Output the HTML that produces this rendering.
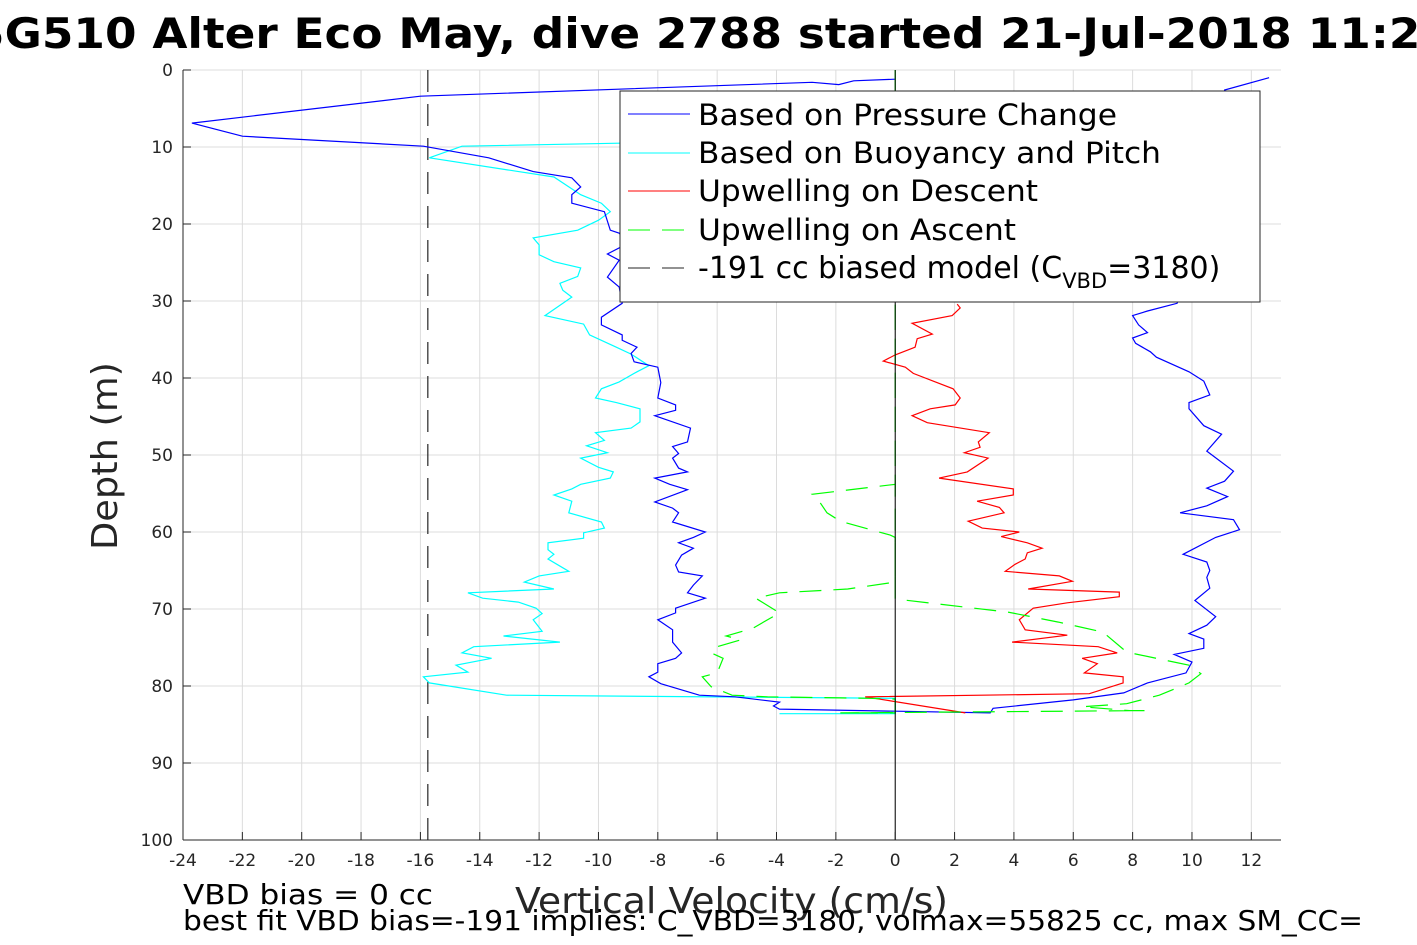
<!DOCTYPE html>
<html><head><meta charset="utf-8"><style>
html,body{margin:0;padding:0;background:#fff;}
svg{display:block;font-family:"DejaVu Sans","Liberation Sans",sans-serif;}
</style></head><body>
<svg id="chart" width="1417" height="945" viewBox="0 0 1417 945">
<text x="-28" y="48" font-size="42" font-weight="bold" fill="#000" textLength="1480" lengthAdjust="spacingAndGlyphs">SG510 Alter Eco May, dive 2788 started 21-Jul-2018 11:29</text>
<g id="grid"></g>
<g id="series"></g>
<rect x="183" y="70" width="1098" height="770" fill="none" stroke="none"/>
<line x1="183" y1="70" x2="183" y2="840" stroke="#262626" stroke-width="1"/>
<line x1="183" y1="840" x2="1281" y2="840" stroke="#262626" stroke-width="1"/>
<g id="ticks"></g>
<text transform="translate(117,456) rotate(-90)" text-anchor="middle" font-size="36" fill="#262626" textLength="188" lengthAdjust="spacingAndGlyphs">Depth (m)</text>
<text x="515" y="913" font-size="36" fill="#262626" textLength="433" lengthAdjust="spacingAndGlyphs">Vertical Velocity (cm/s)</text>
<text x="183" y="904" font-size="28" fill="#000" textLength="250" lengthAdjust="spacingAndGlyphs">VBD bias = 0 cc</text>
<text x="183" y="930" font-size="28" fill="#000" textLength="1180" lengthAdjust="spacingAndGlyphs">best fit VBD bias=-191 implies: C_VBD=3180, volmax=55825 cc, max SM_CC=</text>
<g>
<rect x="620" y="91" width="640" height="211" fill="#fff" stroke="#262626" stroke-width="1"/>
<line x1="628" y1="114" x2="690" y2="114" stroke="#0000ff"/>
<text x="698" y="125" font-size="29" fill="#000" textLength="419" lengthAdjust="spacingAndGlyphs">Based on Pressure Change</text>
<line x1="628" y1="153" x2="690" y2="153" stroke="#00ffff"/>
<text x="698" y="163" font-size="29" fill="#000" textLength="463" lengthAdjust="spacingAndGlyphs">Based on Buoyancy and Pitch</text>
<line x1="628" y1="191" x2="690" y2="191" stroke="#ff0000"/>
<text x="698" y="201" font-size="29" fill="#000" textLength="340" lengthAdjust="spacingAndGlyphs">Upwelling on Descent</text>
<line x1="628" y1="230" x2="690" y2="230" stroke="#00ff00" stroke-dasharray="22,12"/>
<text x="698" y="240" font-size="29" fill="#000" textLength="318" lengthAdjust="spacingAndGlyphs">Upwelling on Ascent</text>
<line x1="628" y1="268" x2="690" y2="268" stroke="#262626" stroke-dasharray="22,12"/>
<text x="698" y="278" font-size="30" fill="#000">-191 cc biased model (C<tspan font-size="21" dy="10">VBD</tspan><tspan dy="-10">=3180)</tspan></text>
</g>
</svg>
<script>
const xTicks = [-24,-22,-20,-18,-16,-14,-12,-10,-8,-6,-4,-2,0,2,4,6,8,10,12];
const yTicks = [0,10,20,30,40,50,60,70,80,90,100];
const biasModelVelocity = -15.75;
const pressureDepth = [1.2,1.4,1.9,1.6,3.4,6.9,8.6,9.9,11.4,13.2,14.0,15.2,16.2,17.3,18.4,20.8,21.2,22.5,23.9,24.7,26.9,28.2,30.3,32.1,33.1,34.4,35.1,36.0,36.8,37.9,38.6,40.6,42.6,43.5,44.2,44.9,46.5,48.3,48.9,49.8,50.4,51.7,52.2,53.0,53.8,54.5,56.1,56.9,57.5,58.7,60.0,60.7,61.4,62.1,63.0,64.3,65.2,65.7,66.9,67.9,68.6,69.9,70.5,71.4,72.7,74.3,75.7,76.4,77.1,78.2,78.8,79.7,81.2,81.4,82.1,82.6,83.0,83.5,82.9,81.8,80.9,79.6,78.3,76.9,75.9,75.1,73.9,73.2,72.1,71.0,68.9,67.3,65.9,65.0,63.9,62.9,60.7,59.7,58.4,57.5,56.6,55.4,54.3,53.4,52.1,49.5,47.3,46.2,44.0,43.2,42.2,40.4,39.2,37.3,36.6,35.5,34.8,34.1,33.1,31.9,31.3,30.3,25.0,20.0,15.0,10.0,5.0,2.6,1.0];
const pressureVel = [0,-1.4,-1.9,-2.8,-16.0,-23.7,-22.0,-15.9,-13.7,-12.2,-10.9,-10.6,-10.9,-10.9,-9.8,-9.6,-9.3,-9.0,-9.7,-9.3,-9.7,-9.3,-9.2,-9.9,-9.9,-9.2,-9.2,-8.7,-8.9,-8.8,-8.0,-7.9,-8.0,-7.4,-7.4,-8.1,-6.9,-7.0,-7.5,-7.3,-7.5,-7.3,-7.0,-8.1,-7.6,-7.0,-8.1,-7.5,-7.3,-7.5,-6.4,-6.8,-7.3,-6.8,-7.2,-7.4,-7.3,-6.5,-6.8,-7.0,-6.4,-7.4,-7.4,-8.0,-7.5,-7.5,-7.2,-7.4,-8.0,-8.0,-8.3,-7.9,-6.6,-5.4,-3.9,-4.1,-3.9,3.2,3.3,6.0,7.7,8.5,9.8,10.0,9.4,10.4,10.4,9.9,10.5,10.8,10.1,10.6,10.5,10.6,10.5,9.7,10.8,11.6,11.4,9.6,10.5,11.2,10.5,11.1,11.4,10.5,11.0,10.4,9.9,9.9,10.6,10.4,9.9,8.8,8.6,8.1,8.0,8.5,8.2,8.0,8.5,9.5,10.0,10.5,10.8,11.0,11.0,11.1,12.6];
const buoyDepth = [9.4,9.5,9.9,11.4,13.9,16.2,17.3,18.4,19.5,20.8,21.8,22.7,24.0,24.9,25.7,26.8,27.7,28.6,29.5,31.9,33.0,34.4,36.0,36.9,38.4,39.2,40.5,41.4,42.6,43.2,44.0,45.7,46.5,47.1,48.1,48.8,49.7,50.4,51.6,52.2,53.0,53.8,54.4,55.2,56.0,57.5,58.7,59.5,60.1,60.8,61.4,62.3,62.9,63.5,65.1,65.7,66.5,67.4,67.9,68.6,69.1,69.9,70.6,71.4,72.9,73.5,74.3,74.9,75.7,76.4,77.3,78.2,78.8,79.6,81.2,81.6,83.6,83.6];
const buoyVel = [0,-9.3,-14.6,-15.7,-11.5,-10.6,-9.9,-9.6,-10.0,-10.7,-12.2,-12.0,-12.0,-11.5,-10.6,-10.7,-11.3,-11.2,-10.9,-11.8,-10.5,-10.3,-9.4,-8.9,-8.3,-8.7,-9.3,-9.9,-10.1,-9.4,-8.6,-8.6,-8.9,-10.1,-9.8,-10.4,-9.7,-10.6,-10.0,-9.5,-9.6,-10.6,-10.9,-11.5,-10.9,-11.0,-9.9,-9.8,-10.5,-10.5,-11.7,-11.7,-11.5,-11.7,-11.0,-12.0,-12.5,-11.5,-14.4,-13.9,-12.7,-12.1,-11.9,-12.2,-11.9,-13.2,-11.3,-14.2,-14.6,-13.6,-14.8,-14.4,-15.9,-15.7,-13.1,0,0,-3.9];
const upDescDepth = [30.4,30.9,31.9,32.9,34.3,34.9,36.0,37.0,37.8,38.6,39.4,41.4,42.6,43.5,44.0,44.9,45.8,47.1,48.3,49.0,49.7,50.4,52.2,53.0,54.4,55.2,56.0,56.8,57.5,58.6,59.5,60.0,60.6,61.4,62.1,62.7,63.5,64.2,65.1,65.7,66.4,67.4,67.8,68.4,69.2,69.9,71.4,72.7,73.4,74.3,74.9,75.7,76.4,77.1,78.3,78.8,79.6,81.0,81.4,83.5];
const upDescVel = [2.09,2.19,1.92,0.57,1.25,0.74,0.67,0,-0.4,0.34,0.61,1.95,2.19,2.02,1.18,0.57,1.08,3.17,2.80,2.86,2.33,3.13,2.43,1.48,3.98,3.98,2.76,3.51,3.67,2.46,2.93,4.18,3.57,4.45,4.95,4.45,4.38,4.04,3.71,5.53,5.97,4.48,7.55,7.55,5.80,4.65,4.18,4.38,5.80,3.94,6.84,7.48,6.30,6.81,6.37,7.68,7.68,6.54,-1.01,2.36];
const upAscDepth = [0,53.8,55.1,55.8,57.5,58.6,60.4,60.7,66.5,67.4,67.9,68.6,70.5,72.5,73.5,74.0,74.9,75.7,76.4,78.3,78.8,80.1,81.2,81.4,81.6,81.7,83.5,83.5,83.2,83.2,82.7,82.3,81.2,79.6,78.4,77.3,75.6,73.0,71.7,70.4,68.7,0];
const upAscVel = [0,0,-2.8,-2.6,-2.3,-1.85,-0.17,0,0,-1.6,-3.9,-4.7,-3.9,-4.8,-5.7,-5.2,-6.0,-6.2,-5.8,-6.0,-6.5,-6.2,-5.5,-4.3,-0.9,0,0,-1.85,8.4,7.9,6.3,7.8,8.9,9.9,10.3,9.9,7.8,7.0,5.5,3.8,0,0];

const X0=183,X1=1281,Y0=70,Y1=840, XMIN=-24, XMAX=13, YMIN=0, YMAX=100;
function xs(v){return X0+(v-XMIN)/(XMAX-XMIN)*(X1-X0);}
function ys(d){return Y0+(d-YMIN)/(YMAX-YMIN)*(Y1-Y0);}
const NS='http://www.w3.org/2000/svg';
const grid=document.getElementById('grid'), ticks=document.getElementById('ticks'), series=document.getElementById('series');
function mk(tag,attrs,parent){const e=document.createElementNS(NS,tag);for(const k in attrs)e.setAttribute(k,attrs[k]);parent.appendChild(e);return e;}
xTicks.forEach(t=>{
  const g=mk('line',{x1:xs(t),x2:xs(t),y1:Y0,y2:Y1,stroke:'#dcdcdc','stroke-width':1},grid);
  
  
  const tk=mk('line',{x1:xs(t),x2:xs(t),y1:Y1,y2:Y1-8,stroke:'#262626'},ticks);
  
  
  const lb=mk('text',{x:xs(t),y:Y1+26,'text-anchor':'middle','font-size':17,fill:'#262626'},ticks);
  lb.textContent=t;
  
  
});
yTicks.forEach(t=>{
  const g=mk('line',{x1:X0,x2:X1,y1:ys(t),y2:ys(t),stroke:'#dcdcdc','stroke-width':1},grid);
  
  
  const tk=mk('line',{x1:X0,x2:X0+8,y1:ys(t),y2:ys(t),stroke:'#262626'},ticks);
  
  
  const lb=mk('text',{x:X0-10,y:ys(t)+6,'text-anchor':'end','font-size':17,fill:'#262626'},ticks);
  lb.textContent=t;
  
  
});
function poly(dep,vel,color,dash,name){
  const pts=dep.map((d,i)=>xs(vel[i]).toFixed(1)+','+ys(d).toFixed(1)).join(' ');
  const p=mk('polyline',{points:pts,fill:'none',stroke:color,'stroke-width':1.2},series);
  if(dash)p.setAttribute('stroke-dasharray',dash);
  
  
}
const bias=mk('line',{x1:xs(biasModelVelocity),x2:xs(biasModelVelocity),y1:Y0,y2:Y1,stroke:'#262626','stroke-width':1.2,'stroke-dasharray':'22,12'},series);


poly(buoyDepth,buoyVel,'#00ffff',null,'buoyancy-pitch-series');
poly(pressureDepth,pressureVel,'#0000ff',null,'pressure-change-series');
poly(upDescDepth,upDescVel,'#ff0000',null,'upwelling-descent-series');
poly(upAscDepth,upAscVel,'#00ff00','22,12','upwelling-ascent-series');
const zl=mk('line',{x1:xs(0),x2:xs(0),y1:Y0,y2:Y1,stroke:'#000','stroke-width':1},series);


</script>
</body></html>
